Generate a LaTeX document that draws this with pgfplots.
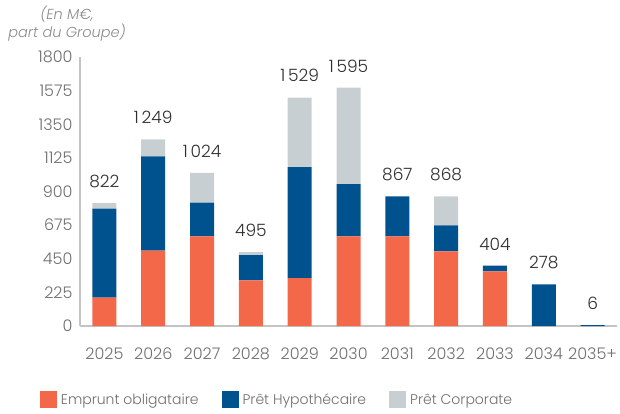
\documentclass[border=0pt]{standalone}
\usepackage{fontspec}
\setmainfont{Poppins Light}[ItalicFont={Poppins Light Italic}, BoldFont={Poppins}]
\usepackage{pgfplots}
\pgfplotsset{compat=1.18}
\definecolor{obl}{HTML}{F26849}
\definecolor{hyp}{HTML}{00528F}
\definecolor{corp}{HTML}{C8CFD2}
\definecolor{axgray}{HTML}{C4C4C4}
\definecolor{txtgray}{HTML}{6E6E6E}
\definecolor{lblgray}{HTML}{2E2E2E}

\pgfplotsset{
  frame/.style={
    at={(80pt,-326pt)}, anchor=south west,
    scale only axis,
    width=537pt, height=269pt,
    xmin=-0.5, xmax=10.5,
    ymin=0, ymax=1800,
  }
}

\begin{document}
\begin{tikzpicture}[x=1pt,y=1pt]
\path[use as bounding box] (0,0) rectangle (620,-414);
\node[align=center, font=\fontsize{14.5}{18}\selectfont\itshape, text=txtgray!80] at (67,-24) {(En M€,\\part du Groupe)};
\begin{axis}[
    frame,
    ybar stacked,
    bar width=24pt,
    axis x line=bottom, axis y line=left,
    axis line style={-, draw=axgray, line width=1.6pt},
    major tick length=0pt,
    ytick={0,225,450,675,900,1125,1350,1575,1800},
    xtick={0,...,10},
    xticklabels={2025,2026,2027,2028,2029,2030,2031,2032,2033,2034,2035+},
    /pgf/number format/assume math mode=true,
    /pgf/number format/set thousands separator={},
    tick label style={font=\fontsize{16}{18}\selectfont, text=txtgray},
    yticklabel style={xshift=-4pt},
    xticklabel style={yshift=-18pt},
    legend style={draw=none, at={(0.367,-0.275)}, anchor=center,
        legend columns=3, font=\fontsize{14}{16}\selectfont,
        text=txtgray,
        /tikz/every even column/.append style={column sep=21pt},
        /tikz/every odd column/.append style={column sep=2pt}},
    legend image code/.code={\fill[#1] (0pt,-8.5pt) rectangle (17pt,8.5pt);},
]
\addplot[fill=obl, draw=none] coordinates {
(0,190) (1,505) (2,600) (3,305) (4,320) (5,600) (6,600) (7,500) (8,365) (9,0) (10,0)};
\addplot[fill=hyp, draw=none] coordinates {
(0,595) (1,630) (2,225) (3,170) (4,743) (5,350) (6,267) (7,173) (8,39) (9,278) (10,6)};
\addplot[fill=corp, draw=none] coordinates {
(0,37) (1,114) (2,199) (3,20) (4,466) (5,645) (6,0) (7,195) (8,0) (9,0) (10,0)};
\legend{Emprunt obligataire, Prêt Hypothécaire, Prêt Corporate}
\end{axis}
% totals above the bars
\begin{axis}[frame, hide axis]
\addplot[draw=none, mark=none,
    point meta=explicit symbolic,
    nodes near coords,
    nodes near coords style={font=\fontsize{17}{19}\selectfont, text=lblgray, anchor=south, yshift=12pt}
] coordinates {
(0,822)[822] (1,1249)[1\,249] (2,1024)[1\,024] (3,495)[495] (4,1529)[1\,529] (5,1595)[1\,595]
(6,867)[867] (7,868)[868] (8,404)[404] (9,278)[278] (10,6)[6]};
\end{axis}
\end{tikzpicture}
\end{document}
